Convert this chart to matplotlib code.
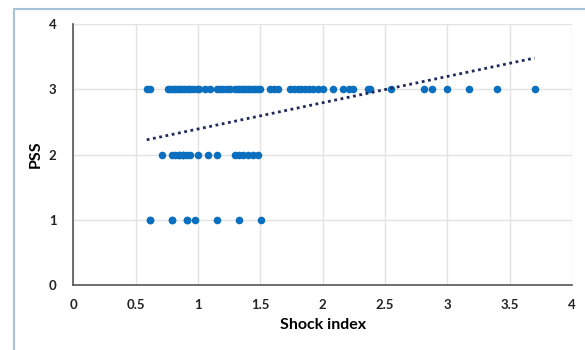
import matplotlib.pyplot as plt
import matplotlib.patches as mpatches
import numpy as np

# shock index values grouped by PSS level (overlapping points repeated)
pss3_x = [0.59, 0.62, 0.76, 0.78, 0.80, 0.82, 0.84, 0.86, 0.88, 0.90, 0.92, 0.94, 0.96,
          0.99, 1.01, 1.06, 1.10, 1.15, 1.18, 1.20, 1.23, 1.26, 1.30, 1.32, 1.34, 1.36,
          1.38, 1.40, 1.42, 1.44, 1.46, 1.48, 1.50, 1.58, 1.61, 1.64, 1.74, 1.77, 1.80,
          1.83, 1.86, 1.89, 1.92, 1.96, 2.00, 2.08, 2.16, 2.21, 2.24, 2.36, 2.38, 2.55,
          2.81, 2.88, 3.00, 3.17, 3.40, 3.70]
pss2_x = [0.71, 0.79, 0.82, 0.85, 0.85, 0.88, 0.88, 0.91, 0.94, 1.00, 1.08,
          1.15, 1.30, 1.33, 1.36, 1.40, 1.44, 1.48]
pss1_x = [0.62, 0.62, 0.79, 0.79, 0.91, 0.91, 0.98, 1.15, 1.33, 1.51]

x = np.array(pss3_x + pss2_x + pss1_x)
y = np.array([3] * len(pss3_x) + [2] * len(pss2_x) + [1] * len(pss1_x))

plt.rcParams['font.family'] = ['Lato', 'DejaVu Sans']

fig = plt.figure(figsize=(5.85, 3.5), dpi=100)
fig.patches.append(mpatches.Rectangle((14 / 585, -0.05), 1.0, 1 - 9 / 350 + 0.05,
                                      transform=fig.transFigure, fill=False,
                                      edgecolor='#a7c1da', linewidth=1.5))
ax = fig.add_axes([0.125, 0.186, 0.853, 0.745])

ax.scatter(x, y, s=30, color='#0b6fbf', zorder=3, linewidths=0)

# linear trendline
slope, intercept = np.polyfit(x, y, 1)
tx = np.array([x.min(), x.max()])
ax.plot(tx, slope * tx + intercept, linestyle=(0, (1, 1.3)), color='#1f2a5c',
        linewidth=2, zorder=4)

ax.set_xlim(0, 4)
ax.set_ylim(0, 4)
ax.set_xticks(np.arange(0, 4.01, 0.5))
ax.set_xticklabels(['0', '0.5', '1', '1.5', '2', '2.5', '3', '3.5', '4'])
ax.set_yticks([0, 1, 2, 3, 4])
ax.grid(True, color='#e3e3e3', linewidth=1)
ax.set_axisbelow(True)
for s in ['top', 'right']:
    ax.spines[s].set_visible(False)
for s in ['left', 'bottom']:
    ax.spines[s].set_color('#555555')
    ax.spines[s].set_linewidth(1.2)
ax.tick_params(length=0, labelsize=9.5, colors='#222222')
ax.tick_params(axis='x', pad=10)
ax.tick_params(axis='y', pad=12)
for lab in ax.get_xticklabels() + ax.get_yticklabels():
    lab.set_fontweight('bold')
ax.set_xlabel('Shock index', fontsize=11.5, fontweight='bold', labelpad=5)
ax.set_ylabel('PSS', fontsize=11.5, fontweight='bold', labelpad=4)

fig.savefig('out.png', dpi=100)
